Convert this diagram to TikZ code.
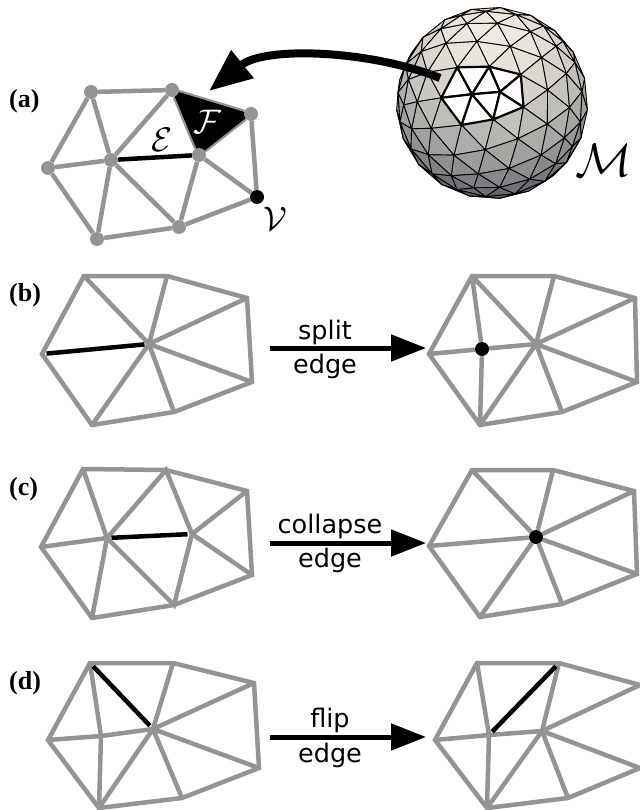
\documentclass[tikz,border=0pt]{standalone}
\usepackage{fontspec}
\usetikzlibrary{arrows.meta,backgrounds}
\newfontfamily\panelfont{Liberation Serif}
\newfontfamily\opfont{DejaVu Sans}
\definecolor{meshGray}{HTML}{949494}
\definecolor{meshLight}{RGB}{240,236,226}
\definecolor{meshDark}{RGB}{98,101,106}
\tikzset{
  medge/.style={draw=meshGray, line width=4.5pt, line join=miter},
  hedge/.style={draw=black, line width=4.5pt, shorten >=4.5pt, shorten <=4.5pt},
  vert/.style={circle, fill=meshGray, minimum size=14pt, inner sep=0pt},
  hvert/.style={circle, fill=black, minimum size=14pt, inner sep=0pt},
  panel/.style={font=\panelfont\bfseries\fontsize{26}{26}\selectfont, anchor=base west, inner sep=0pt},
  optext/.style={font=\opfont\fontsize{25.5}{26}\selectfont, anchor=base, inner sep=0pt},
  sym/.style={font=\Huge, scale=1.37, inner sep=0pt},
  oparrow/.style={-{Triangle[length=35pt,width=26pt]}, line width=5pt},
  bigarrow/.style={-{Triangle[length=43pt,width=34pt]}, line width=8pt},
  facestyle/.style={draw=black, line width=0.9pt, line join=round, fill=facecol},
  holestyle/.style={draw=black, line width=2.2pt, line join=round, fill=white}
}
% sphere helpers
\newcommand{\spx}[1]{492+606*\csname qx#1\endcsname/(6.4-\csname qz#1\endcsname)}
\newcommand{\spy}[1]{103-606*\csname qy#1\endcsname/(6.4-\csname qz#1\endcsname)}
\newcommand{\icovertex}[3]{%
  \pgfmathsetmacro\lx{cos(#2)*cos(#3)}%
  \pgfmathsetmacro\ly{cos(#2)*sin(#3)}%
  \pgfmathsetmacro\lz{sin(#2)}%
  \pgfmathsetmacro\tx{(\lx)*cos(4.1)+(\lz)*sin(4.1)}%
  \pgfmathsetmacro\tz{(\lz)*cos(4.1)-(\lx)*sin(4.1)}%
  \pgfmathsetmacro\wy{(\ly)*cos(5.7)+(\tz)*sin(5.7)}%
  \pgfmathsetmacro\wz{(\tz)*cos(5.7)-(\ly)*sin(5.7)}%
  \expandafter\xdef\csname vx#1\endcsname{\tx}%
  \expandafter\xdef\csname vy#1\endcsname{\wy}%
  \expandafter\xdef\csname vz#1\endcsname{\wz}%
}
\newcommand{\meshpoint}[5]{%
  \pgfmathsetmacro\gx{(4-#1-#2)*\csname vx#3\endcsname+#1*\csname vx#4\endcsname+#2*\csname vx#5\endcsname}%
  \pgfmathsetmacro\gy{(4-#1-#2)*\csname vy#3\endcsname+#1*\csname vy#4\endcsname+#2*\csname vy#5\endcsname}%
  \pgfmathsetmacro\gz{(4-#1-#2)*\csname vz#3\endcsname+#1*\csname vz#4\endcsname+#2*\csname vz#5\endcsname}%
  \pgfmathsetmacro\gn{sqrt(\gx*\gx+\gy*\gy+\gz*\gz)}%
  \pgfmathsetmacro\gx{\gx/\gn}\pgfmathsetmacro\gy{\gy/\gn}\pgfmathsetmacro\gz{\gz/\gn}%
  \expandafter\xdef\csname qx#1#2\endcsname{\gx}%
  \expandafter\xdef\csname qy#1#2\endcsname{\gy}%
  \expandafter\xdef\csname qz#1#2\endcsname{\gz}%
}
\newcommand{\meshtri}[3]{%
  \pgfmathsetmacro\cx{\csname qx#1\endcsname+\csname qx#2\endcsname+\csname qx#3\endcsname}%
  \pgfmathsetmacro\cy{\csname qy#1\endcsname+\csname qy#2\endcsname+\csname qy#3\endcsname}%
  \pgfmathsetmacro\cz{\csname qz#1\endcsname+\csname qz#2\endcsname+\csname qz#3\endcsname}%
  \pgfmathsetmacro\cn{sqrt(\cx*\cx+\cy*\cy+\cz*\cz)}%
  \pgfmathsetmacro\cx{\cx/\cn}\pgfmathsetmacro\cy{\cy/\cn}\pgfmathsetmacro\cz{\cz/\cn}%
  \ifdim\cz pt>0.156pt
    \pgfmathsetmacro\hdot{max(\cx*\vxn+\cy*\vyn+\cz*\vzn,\cx*\wxh+\cy*\wyh+\cz*\wzh)}%
    \ifdim\hdot pt>0.965pt
      \draw[holestyle] ({\spx{#1}},{\spy{#1}}) -- ({\spx{#2}},{\spy{#2}}) -- ({\spx{#3}},{\spy{#3}}) -- cycle;
    \else
      \pgfmathsetmacro\shade{max(0,min(100,100*(0.7*\cy+0.7*\cz+0.35)/1.35))}%
      \colorlet{facecol}{meshLight!\shade!meshDark}%
      \begin{scope}[on background layer]
        \draw[facestyle] ({\spx{#1}},{\spy{#1}}) -- ({\spx{#2}},{\spy{#2}}) -- ({\spx{#3}},{\spy{#3}}) -- cycle;
      \end{scope}
    \fi
  \fi
}
\newcommand{\meshface}[3]{%
  \foreach \i in {0,...,4}{\pgfmathtruncatemacro\jmax{4-\i}%
    \foreach \j in {0,...,\jmax}{\meshpoint{\i}{\j}{#1}{#2}{#3}}}%
  \foreach \i in {0,...,3}{\pgfmathtruncatemacro\jmax{3-\i}%
    \foreach \j in {0,...,\jmax}{%
      \pgfmathtruncatemacro\ia{\i+1}\pgfmathtruncatemacro\ja{\j+1}%
      \meshtri{\i\j}{\ia\j}{\i\ja}%
      \ifnum\numexpr\i+\j\relax<3 \meshtri{\ia\j}{\ia\ja}{\i\ja}\fi
    }}%
}
\begin{document}
\begin{tikzpicture}[x=1pt,y=-1pt]
\useasboundingbox (0,0) rectangle (639,810);

% sphere
\icovertex{n}{90}{0}
\icovertex{s}{-90}{0}
\foreach \k in {1,...,5}{
  \pgfmathsetmacro\lonu{40.5+72*(\k-1)}
  \pgfmathsetmacro\lonl{76.5+72*(\k-1)}
  \icovertex{u\k}{26.565}{\lonu}
  \icovertex{l\k}{-26.565}{\lonl}
}
\meshpoint{1}{0}{n}{u3}{u4}
\xdef\wxh{\csname qx10\endcsname}\xdef\wyh{\csname qy10\endcsname}\xdef\wzh{\csname qz10\endcsname}
\foreach \k/\m in {1/2,2/3,3/4,4/5,5/1}{
  \meshface{n}{u\k}{u\m}
  \meshface{u\k}{u\m}{l\k}
  \meshface{u\m}{l\m}{l\k}
  \meshface{s}{l\k}{l\m}
}
\node[sym, scale=1.38] (symM) at (604,160) {$\mathcal{M}$};

% panel a
\node[panel] (la) at (9,108) {(a)};
\fill[black] (172,90) -- (199,155) -- (251,114) -- cycle;
\node[vert] (aA) at (91,92) {};
\node[vert] (aB) at (172,90) {};
\node[vert] (aC) at (251,114) {};
\node[vert] (aD) at (48,168) {};
\node[vert] (aE) at (111,160) {};
\node[vert] (aF) at (199,155) {};
\node[hvert] (aG) at (257,197) {};
\node[vert] (aH) at (97,239) {};
\node[vert] (aI) at (179,227) {};
\begin{scope}[on background layer]
\draw[medge] (aA)--(aB)--(aC)--(aG)--(aI)--(aH)--(aD)--(aA) (aA)--(aE)--(aB)--(aF)--(aC)
  (aD)--(aE)--(aH) (aE)--(aI)--(aF)--(aG);
\draw[hedge, shorten >=0pt, shorten <=0pt] (aE)--(aF);
\end{scope}
\node[sym] (symE) at (162,140) {$\mathcal{E}$};
\node[sym, text=white] (symF) at (207,122) {$\mathcal{F}$};
\node[sym] (symV) at (275,219) {$\mathcal{V}$};
\coordinate (tail) at (440,78);
\coordinate (tip) at (209,91);
\draw[bigarrow] (tail) .. controls (370,50) and (265,46) .. (tip);

% panel b
\node[panel] (lb) at (9,301) {(b)};
\coordinate (bA) at (84,276);
\coordinate (bB) at (167,276);
\coordinate (bC) at (247,298);
\coordinate (bD) at (42,354);
\coordinate (bE) at (149,344);
\coordinate (bG) at (252,382);
\coordinate (bH) at (92,425);
\coordinate (bI) at (174,412);
\draw[medge] (bA)--(bB)--(bC)--(bG)--(bI)--(bH)--(bD)--cycle
  (bE)--(bA) (bE)--(bB) (bE)--(bC) (bE)--(bG) (bE)--(bI) (bE)--(bH);
\draw[hedge] (bD)--(bE);
\coordinate (sA) at (472,276);
\coordinate (sB) at (554,276);
\coordinate (sC) at (635,298);
\coordinate (sD) at (429,354);
\coordinate (sE) at (536,344);
\coordinate (sG) at (637,382);
\coordinate (sH) at (480,425);
\coordinate (sI) at (562,412);
\node[hvert] (sM) at (482,349) {};
\begin{scope}[on background layer]
\draw[medge] (sA)--(sB)--(sC)--(sG)--(sI)--(sH)--(sD)--cycle
  (sE)--(sA) (sE)--(sB) (sE)--(sC) (sE)--(sG) (sE)--(sI) (sE)--(sH)
  (sD)--(sM)--(sE) (sA)--(sM)--(sH);
\end{scope}
\coordinate (b1) at (270,348);
\coordinate (b2) at (426,348);
\draw[oparrow] (b1) -- (b2);
\node[optext] (tb1) at (325,339) {split};
\node[optext] (tb2) at (325,373) {edge};

% panel c
\node[panel] (lc) at (9,495) {(c)};
\coordinate (cA) at (83,469);
\coordinate (cB) at (166,470);
\coordinate (cC) at (247,491);
\coordinate (cD) at (41,547);
\coordinate (cE) at (107,538);
\coordinate (cF) at (192,534);
\coordinate (cG) at (252,575);
\coordinate (cH) at (92,618);
\coordinate (cI) at (174,605);
\draw[medge] (cA)--(cB)--(cC)--(cG)--(cI)--(cH)--(cD)--cycle (cA)--(cE)--(cB)--(cF)--(cC)
  (cD)--(cE)--(cH) (cE)--(cI)--(cF)--(cG);
\draw[hedge] (cE)--(cF);
\coordinate (tA) at (472,470);
\coordinate (tB) at (553,470);
\coordinate (tC) at (634,491);
\coordinate (tD) at (429,546);
\node[hvert] (tE) at (536,537) {};
\coordinate (tG) at (637,574);
\coordinate (tH) at (480,617);
\coordinate (tI) at (562,604);
\begin{scope}[on background layer]
\draw[medge] (tA)--(tB)--(tC)--(tG)--(tI)--(tH)--(tD)--cycle
  (tE)--(tA) (tE)--(tB) (tE)--(tC) (tE)--(tG) (tE)--(tI) (tE)--(tH) (tE)--(tD);
\end{scope}
\coordinate (c1) at (270,543);
\coordinate (c2) at (426,543);
\draw[oparrow] (c1) -- (c2);
\node[optext] (tc1) at (330,533) {collapse};
\node[optext] (tc2) at (330,567) {edge};

% panel d
\node[panel] (ld) at (9,689) {(d)};
\coordinate (dA) at (90,663);
\coordinate (dB) at (173,663);
\coordinate (dC) at (254,683);
\coordinate (dD) at (48,740);
\coordinate (dE) at (153,729);
\coordinate (dM) at (101,736);
\coordinate (dG) at (259,768);
\coordinate (dH) at (99,808);
\coordinate (dI) at (182,798);
\draw[medge] (dA)--(dB)--(dC)--(dG)--(dI)--(dH)--(dD)--cycle
  (dE)--(dB) (dE)--(dC) (dE)--(dG) (dE)--(dI) (dE)--(dH)
  (dD)--(dM)--(dE) (dA)--(dM)--(dH);
\draw[hedge] (dA)--(dE);
\coordinate (uA) at (477,663);
\coordinate (uB) at (559,663);
\coordinate (uC) at (640,685);
\coordinate (uD) at (435,740);
\coordinate (uE) at (542,731);
\coordinate (uM) at (489,735);
\coordinate (uG) at (640,768);
\coordinate (uH) at (487,808);
\coordinate (uI) at (568,798);
\draw[medge] (uC)--(uB)--(uA)--(uD)--(uH)--(uI)--(uG)
  (uE)--(uB) (uE)--(uC) (uE)--(uG) (uE)--(uI) (uE)--(uH)
  (uD)--(uM)--(uE) (uA)--(uM)--(uH);
\draw[hedge] (uM)--(uB);
\coordinate (d1) at (270,737);
\coordinate (d2) at (426,737);
\draw[oparrow] (d1) -- (d2);
\node[optext] (td1) at (330,727) {flip};
\node[optext] (td2) at (330,762) {edge};
\end{tikzpicture}
\end{document}
